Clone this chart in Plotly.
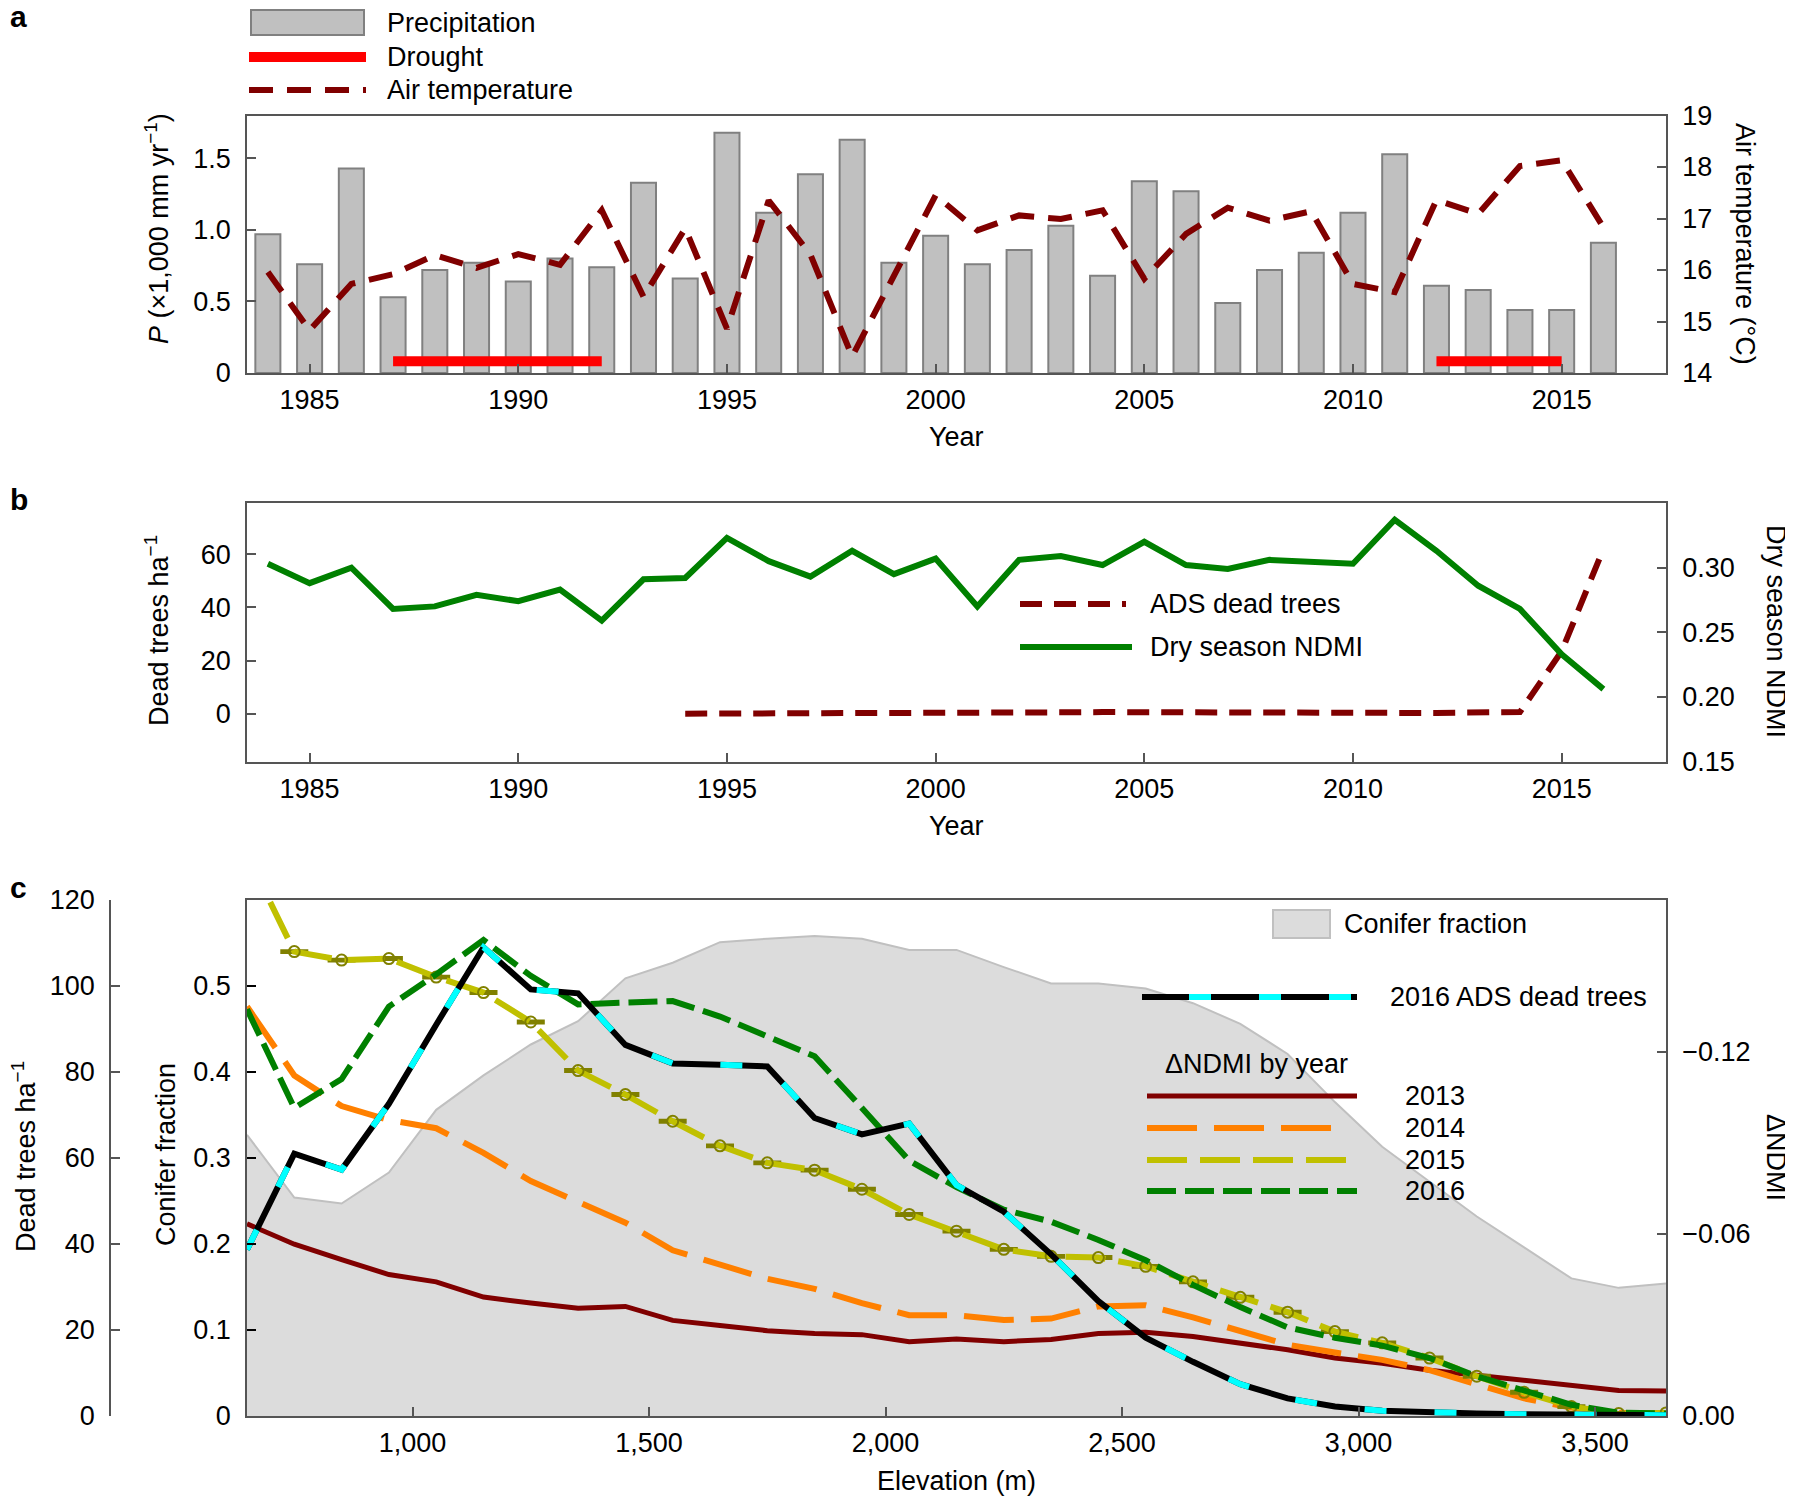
import plotly.graph_objects as go

# ---------------- data ----------------
# panel a / b : yearly series
years = [1984, 1985, 1986, 1987, 1988, 1989, 1990, 1991, 1992, 1993, 1994,
         1995, 1996, 1997, 1998, 1999, 2000, 2001, 2002, 2003, 2004, 2005,
         2006, 2007, 2008, 2009, 2010, 2011, 2012, 2013, 2014, 2015, 2016]
precip = [0.97, 0.76, 1.43, 0.53, 0.72, 0.77, 0.64, 0.80, 0.74, 1.33, 0.66,
          1.68, 1.12, 1.39, 1.63, 0.77, 0.96, 0.76, 0.86, 1.03, 0.68, 1.34,
          1.27, 0.49, 0.72, 0.84, 1.12, 1.53, 0.61, 0.58, 0.44, 0.44, 0.91]
air_temp = [15.96, 14.83, 15.73, 15.92, 16.29, 16.04, 16.31, 16.10, 17.16, 15.48, 16.81,
            14.86, 17.35, 16.30, 14.32, 15.88, 17.45, 16.77, 17.06, 16.99, 17.16, 15.83,
            16.70, 17.21, 16.96, 17.14, 15.73, 15.57, 17.36, 17.09, 18.02, 18.13, 16.83]
drought_years = [1987, 1992, None, 2012, 2015]
drought_level = [14.23, 14.23, None, 14.23, 14.23]

ndmi = [0.303, 0.288, 0.300, 0.268, 0.270, 0.279, 0.274, 0.283, 0.259, 0.291, 0.292,
        0.323, 0.305, 0.293, 0.313, 0.295, 0.307, 0.270, 0.306, 0.309, 0.302, 0.320,
        0.302, 0.299, 0.306, 0.305, 0.303, 0.337, 0.313, 0.286, 0.268, 0.233, 0.206]
ads_years = [1994, 1995, 1996, 1997, 1998, 1999, 2000, 2001, 2002, 2003, 2004, 2005,
             2006, 2007, 2008, 2009, 2010, 2011, 2012, 2013, 2014, 2015, 2016]
ads_dead = [0.0, 0.0, 0.0, 0.0, 0.0, 0.0, 0.0, 0.0, 0.5, 0.5, 0.6, 0.5,
            0.3, 0.3, 0.3, 0.4, 0.4, 0.3, 0.3, 0.3, 0.6, 23.5, 62.0]

# panel c : elevation bands
elev = [650, 750, 850, 950, 1050, 1150, 1250, 1350, 1450, 1550, 1650,
        1750, 1850, 1950, 2050, 2150, 2250, 2350, 2450, 2550, 2650, 2750,
        2850, 2950, 3050, 3150, 3250, 3350, 3450, 3550, 3650]
conifer = [0.327, 0.254, 0.247, 0.283, 0.356, 0.396, 0.432, 0.459, 0.509, 0.527, 0.551,
           0.555, 0.558, 0.555, 0.542, 0.542, 0.522, 0.503, 0.503, 0.497, 0.480, 0.456,
           0.421, 0.365, 0.313, 0.273, 0.232, 0.196, 0.160, 0.149, 0.154]
dead_2016 = [38.7, 61.0, 57.3, 72.6, 91.0, 109.0, 99.2, 98.3, 86.3, 82.0, 81.7,
             81.3, 69.3, 65.5, 68.0, 53.7, 47.5, 37.6, 26.7, 18.2, 12.6, 7.4,
             4.1, 2.2, 1.2, 0.8, 0.6, 0.4, 0.3, 0.2, 0.2]
dndmi_2013 = [-0.0633, -0.0566, -0.0515, -0.0466, -0.0442, -0.0392, -0.0372, -0.0355, -0.0361, -0.0315, -0.0298,
              -0.0281, -0.0272, -0.0268, -0.0245, -0.0254, -0.0245, -0.0252, -0.0272, -0.0276, -0.0262, -0.0241,
              -0.0218, -0.0191, -0.0174, -0.0151, -0.0134, -0.0114, -0.0098, -0.0084, -0.0082]
dndmi_2014 = [-0.1349, -0.1122, -0.1021, -0.0975, -0.0948, -0.0867, -0.0774, -0.0707, -0.0637, -0.0546, -0.0499,
              -0.0452, -0.0419, -0.0372, -0.0332, -0.0332, -0.0316, -0.0321, -0.0361, -0.0365, -0.0325, -0.0278,
              -0.0235, -0.0209, -0.0185, -0.0151, -0.0104, -0.0058, -0.0028, -0.0010, -0.0008]
dndmi_2015 = [-0.1850, -0.1530, -0.1502, -0.1507, -0.1446, -0.1395, -0.1298, -0.1138, -0.1059, -0.0971, -0.0890,
              -0.0834, -0.0810, -0.0747, -0.0664, -0.0609, -0.0549, -0.0526, -0.0522, -0.0493, -0.0442, -0.0391,
              -0.0342, -0.0278, -0.0241, -0.0191, -0.0131, -0.0078, -0.0031, -0.0008, -0.0010]
dndmi_2015_err = [0.0004] * len(elev)
dndmi_2016 = [-0.1340, -0.1015, -0.1110, -0.1349, -0.1455, -0.1568, -0.1450, -0.1356, -0.1362, -0.1367, -0.1316,
              -0.1249, -0.1185, -0.1015, -0.0841, -0.0754, -0.0680, -0.0640, -0.0580, -0.0513, -0.0432, -0.0359,
              -0.0292, -0.0258, -0.0232, -0.0191, -0.0131, -0.0084, -0.0037, -0.0011, -0.0008]

# ---------------- layout helpers ----------------
# the page body keeps its default 8px margin, so the figure is a bit smaller
# and every screen position below is shifted by that offset
OFF = 8
W, H = 1793 - OFF, 1497 - OFF
FONT = "Liberation Sans, Arial, Helvetica, sans-serif"
FS = 27
LINE = "#555555"


def px(x):
    return (x - OFF) / W


def py(y):
    return 1 - (y - OFF) / H


X_DOM = [px(247), px(1666)]
A_DOM = [py(373), py(115.5)]
B_DOM = [py(761.5), py(503)]
C_DOM = [py(1416), py(900)]

axis_style = dict(showline=True, linecolor=LINE, linewidth=1.5, ticks="inside", ticklen=9,
                  tickcolor=LINE, tickwidth=1.5, showgrid=False, zeroline=False, automargin=False,
                  tickfont=dict(size=FS, color="black"), ticklabelstandoff=9)
x_style = dict(axis_style, ticklabelstandoff=2)

fig = go.Figure()

# panel a
fig.add_trace(go.Bar(x=years, y=precip, width=0.6, xaxis="x", yaxis="y",
                     marker=dict(color="#c0c0c0", line=dict(color="#808080", width=2))))
fig.add_trace(go.Scatter(x=years, y=air_temp, mode="lines", xaxis="x", yaxis="y2",
                         line=dict(color="#800000", width=6, dash="24px,14px")))
fig.add_trace(go.Scatter(x=drought_years, y=drought_level, mode="lines", xaxis="x", yaxis="y2",
                         line=dict(color="#ff0000", width=10)))

# panel b
fig.add_trace(go.Scatter(x=ads_years, y=ads_dead, mode="lines", xaxis="x2", yaxis="y3",
                         line=dict(color="#800000", width=6, dash="22px,12px")))
fig.add_trace(go.Scatter(x=years, y=ndmi, mode="lines", xaxis="x2", yaxis="y4",
                         line=dict(color="#008000", width=6)))

# panel c
fig.add_trace(go.Scatter(x=elev, y=conifer, mode="lines", fill="tozeroy", xaxis="x3", yaxis="y5",
                         fillcolor="#dcdcdc", line=dict(color="#c0c0c0", width=2)))
fig.add_trace(go.Scatter(x=elev, y=dndmi_2013, mode="lines", xaxis="x3", yaxis="y6",
                         line=dict(color="#800000", width=5)))
fig.add_trace(go.Scatter(x=elev, y=dndmi_2014, mode="lines", xaxis="x3", yaxis="y6",
                         line=dict(color="#ff8000", width=6, dash="50px,17px")))
fig.add_trace(go.Scatter(x=elev, y=dndmi_2015, mode="lines+markers", xaxis="x3", yaxis="y6",
                         line=dict(color="#c0c000", width=6, dash="40px,13px"),
                         marker=dict(symbol="circle-open", size=11, color="#808000",
                                     line=dict(width=2, color="#808000")),
                         error_y=dict(type="data", array=dndmi_2015_err, color="#808000",
                                      thickness=2.5, width=14)))
fig.add_trace(go.Scatter(x=elev, y=dndmi_2016, mode="lines", xaxis="x3", yaxis="y6",
                         line=dict(color="#008000", width=6, dash="29px,9px")))
fig.add_trace(go.Scatter(x=elev, y=dead_2016, mode="lines", xaxis="x3", yaxis="y7",
                         line=dict(color="black", width=6)))
fig.add_trace(go.Scatter(x=elev, y=dead_2016, mode="lines", xaxis="x3", yaxis="y7",
                         line=dict(color="#00ffff", width=6, dash="22px,48px")))

year_ticks = [1985, 1990, 1995, 2000, 2005, 2010, 2015]

fig.update_layout(
    width=W, height=H, autosize=False,
    margin=dict(l=0, r=0, t=0, b=0),
    paper_bgcolor="white", plot_bgcolor="rgba(0,0,0,0)",
    font=dict(family=FONT, size=FS, color="black"),
    showlegend=False,
    xaxis=dict(x_style, domain=X_DOM, anchor="y", range=[1983.5, 2017.5],
               tickvals=year_ticks, mirror=True),
    yaxis=dict(axis_style, domain=A_DOM, anchor="x", range=[0, 1.8],
               tickvals=[0, 0.5, 1.0, 1.5], ticktext=["0", "0.5", "1.0", "1.5"]),
    yaxis2=dict(axis_style, overlaying="y", side="right", anchor="x", range=[14, 19],
                tickvals=[14, 15, 16, 17, 18, 19]),
    xaxis2=dict(x_style, domain=X_DOM, anchor="y3", range=[1983.5, 2017.5],
                tickvals=year_ticks, mirror=True),
    yaxis3=dict(axis_style, domain=B_DOM, anchor="x2", range=[-18, 79.3],
                tickvals=[0, 20, 40, 60]),
    yaxis4=dict(axis_style, overlaying="y3", side="right", anchor="x2", range=[0.15, 0.35],
                tickvals=[0.15, 0.20, 0.25, 0.30], tickformat=".2f"),
    xaxis3=dict(x_style, domain=X_DOM, anchor="y5", range=[650, 3650],
                tickvals=[1000, 1500, 2000, 2500, 3000, 3500], tickformat=",", mirror=True),
    yaxis5=dict(axis_style, domain=C_DOM, anchor="x3", range=[0, 0.6],
                tickvals=[0, 0.1, 0.2, 0.3, 0.4, 0.5],
                ticktext=["0", "0.1", "0.2", "0.3", "0.4", "0.5"], tickcolor="black"),
    yaxis6=dict(axis_style, overlaying="y5", side="right", anchor="x3", range=[0, -0.17],
                tickvals=[0, -0.06, -0.12], ticktext=["0.00", "\u22120.06", "\u22120.12"]),
    yaxis7=dict(axis_style, overlaying="y5", side="left", anchor="free", position=px(110),
                range=[0, 120], tickvals=[0, 20, 40, 60, 80, 100, 120]),
)

# ---------------- text: panel letters and axis titles ----------------
notes = [
    ("<b>a</b>", 8, 17, 0, "left", 30),
    ("<b>b</b>", 8, 500, 0, "left", 30),
    ("<b>c</b>", 8, 887, 0, "left", 30),
    ("<i>P</i> (\u00d71,000 mm yr<sup>\u22121</sup>)", 157, 229, -90, "center", FS),
    ("Air temperature (\u00b0C)", 1745, 244, 90, "center", FS),
    ("Year", 956, 437, 0, "center", FS),
    ("Dead trees ha<sup>\u22121</sup>", 157, 631, -90, "center", FS),
    ("Dry season NDMI", 1776, 631, 90, "center", FS),
    ("Year", 956, 826, 0, "center", FS),
    ("Dead trees ha<sup>\u22121</sup>", 24, 1157, -90, "center", FS),
    ("Conifer fraction", 166, 1155, -90, "center", FS),
    ("\u0394NDMI", 1776, 1157, 90, "center", FS),
    ("Elevation (m)", 956, 1481, 0, "center", FS),
    # legend labels
    ("Precipitation", 385, 23, 0, "left", FS),
    ("Drought", 385, 57, 0, "left", FS),
    ("Air temperature", 385, 90, 0, "left", FS),
    ("ADS dead trees", 1148, 604, 0, "left", FS),
    ("Dry season NDMI", 1148, 647, 0, "left", FS),
    ("Conifer fraction", 1342, 924, 0, "left", FS),
    ("2016 ADS dead trees", 1388, 997, 0, "left", FS),
    ("\u0394NDMI by year", 1163, 1064, 0, "left", FS),
    ("2013", 1403, 1096, 0, "left", FS),
    ("2014", 1403, 1128, 0, "left", FS),
    ("2015", 1403, 1160, 0, "left", FS),
    ("2016", 1403, 1191, 0, "left", FS),
]
for text, x, y, ang, anchor, size in notes:
    fig.add_annotation(text=text, x=px(x), y=py(y), xref="paper", yref="paper",
                       xanchor=anchor, yanchor="middle", textangle=ang, showarrow=False,
                       font=dict(size=size, family=FONT, color="black"))

# ---------------- legend samples ----------------
def leg_line(x0, x1, y, color, width, dash="solid"):
    fig.add_shape(type="line", xref="paper", yref="paper", x0=px(x0), x1=px(x1),
                  y0=py(y), y1=py(y), line=dict(color=color, width=width, dash=dash))


fig.add_shape(type="rect", xref="paper", yref="paper", x0=px(251), x1=px(364),
              y0=py(35), y1=py(10), fillcolor="#c0c0c0", line=dict(color="#808080", width=2))
leg_line(249, 366, 57, "#ff0000", 10)
leg_line(249, 366, 90, "#800000", 6, "24px,14px")
leg_line(1020, 1126, 604, "#800000", 6, "22px,12px")
leg_line(1020, 1132, 647, "#008000", 6)
fig.add_shape(type="rect", xref="paper", yref="paper", x0=px(1273), x1=px(1330),
              y0=py(938), y1=py(910), fillcolor="#dcdcdc", line=dict(color="#c0c0c0", width=2))
leg_line(1142, 1357, 997, "black", 6)
leg_line(1142, 1357, 997, "#00ffff", 6, "0px,47px,22px,1px")
leg_line(1147, 1357, 1096, "#800000", 5)
leg_line(1147, 1335, 1128, "#ff8000", 6, "50px,17px")
leg_line(1147, 1346, 1160, "#c0c000", 6, "40px,13px")
leg_line(1147, 1357, 1191, "#008000", 6, "29px,9px")

fig.write_html("out.html")
